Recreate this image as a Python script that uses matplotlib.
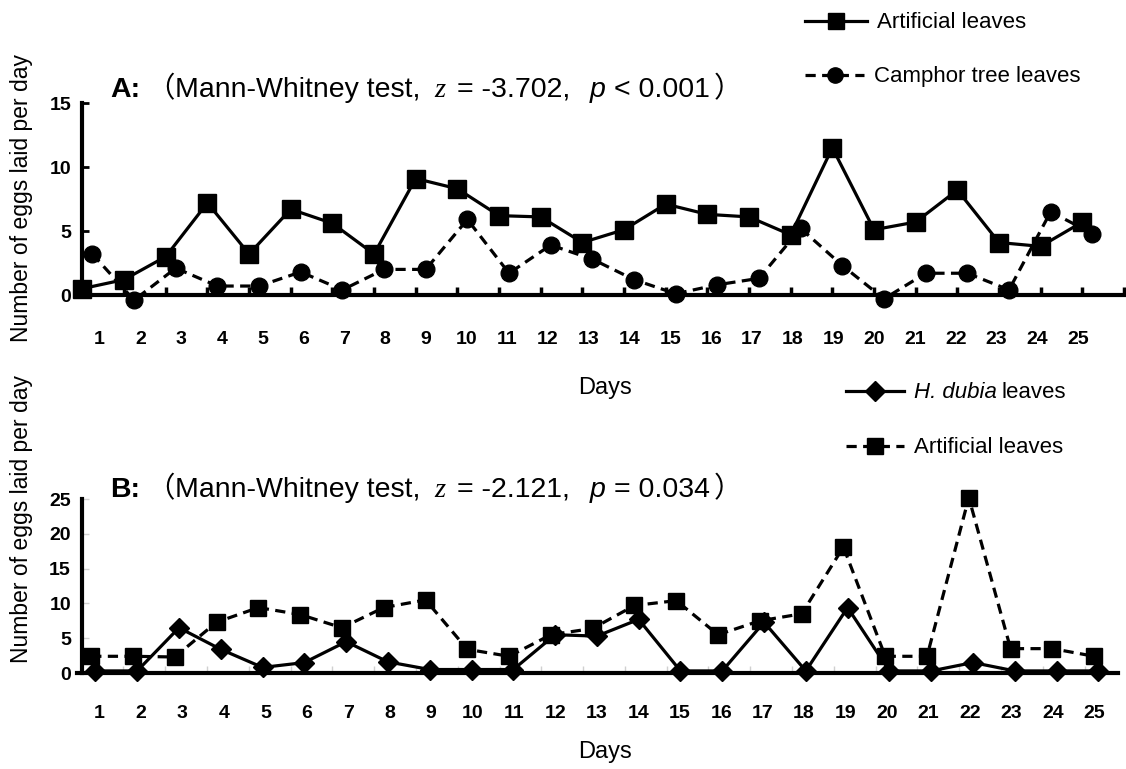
import matplotlib
matplotlib.use('Agg')
import matplotlib.pyplot as plt
from matplotlib.lines import Line2D
import numpy as np

# data
days = np.arange(1, 26)
a_artificial = [0.5, 1.2, 3.0, 7.2, 3.2, 6.7, 5.6, 3.2, 9.1, 8.3, 6.2, 6.1, 4.1,
                5.1, 7.1, 6.3, 6.1, 4.7, 11.5, 5.1, 5.7, 8.2, 4.1, 3.8, 5.7]
a_camphor = [3.2, -0.4, 2.1, 0.7, 0.7, 1.8, 0.4, 2.0, 2.0, 5.9, 1.7, 3.9, 2.8,
             1.2, 0.1, 0.8, 1.3, 5.2, 2.3, -0.3, 1.7, 1.7, 0.4, 6.5, 4.8]
b_dubia = [0.3, 0.3, 6.5, 3.4, 0.8, 1.5, 4.5, 1.6, 0.5, 0.5, 0.5, 5.5, 5.3,
           7.7, 0.3, 0.3, 7.3, 0.3, 9.4, 0.3, 0.3, 1.5, 0.3, 0.3, 0.3]
b_artificial = [2.4, 2.4, 2.3, 7.3, 9.4, 8.4, 6.5, 9.4, 10.5, 3.4, 2.4, 5.5, 6.4,
                9.7, 10.4, 5.5, 7.5, 8.5, 18.1, 2.4, 2.4, 25.2, 3.5, 3.5, 2.4]
a_yticks = [0, 5, 10, 15]
b_yticks = [0, 5, 10, 15, 20, 25]
day_labels = [str(d) for d in days]

W, H = 1126, 769
fig = plt.figure(figsize=(W / 100, H / 100), dpi=100)
sans = ['Liberation Sans', 'DejaVu Sans']
cjk = ['Noto Sans CJK JP', 'DejaVu Sans']
LW = 2.3
DASH = (0, (3.2, 2.0))


def pos(x0, x1, y_top, y_bot):
    return [x0 / W, 1 - y_bot / H, (x1 - x0) / W, (y_bot - y_top) / H]


def put(x, y, s, size, **kw):
    return fig.text(x / W, 1 - y / H, s, va='baseline', ha='left', fontsize=size, **kw)


def style_axes(ax, spine_x, ycolor):
    for s in ['top', 'right']:
        ax.spines[s].set_visible(False)
    ax.spines['left'].set_position(('data', spine_x))
    ax.spines['left'].set_linewidth(3)
    ax.spines['bottom'].set_linewidth(3)
    ax.tick_params(axis='y', direction='in', length=5, width=2 if ycolor == 'k' else 1,
                   color=ycolor, pad=8, labelsize=14)
    for lab in ax.get_yticklabels():
        lab.set_fontfamily(sans)
        lab.set_fontweight('bold')


# ---- panel A
ax1 = fig.add_axes(pos(77, 1124, 103, 295))
ax1.plot(days, a_artificial, color='k', lw=LW, marker='s', ms=12.5, clip_on=False, zorder=3)
ax1.plot(days + 0.24, a_camphor, color='k', lw=LW, ls=DASH, marker='o', ms=12, clip_on=False, zorder=3)
ax1.set_xlim(0.87, 26.0)
ax1.set_ylim(0, 15)
ax1.set_yticks(a_yticks)
ax1.set_xticks(np.linspace(1.41, 24.9, 25))
ax1.set_xticklabels(day_labels, fontfamily=sans, fontweight='bold', fontsize=14)
ax1.set_xticks(np.arange(1, 27), minor=True)
ax1.tick_params(axis='x', which='major', length=0, pad=26)
ax1.tick_params(axis='x', which='minor', direction='in', length=6, width=2.5)
style_axes(ax1, 1.0, 'k')

# ---- panel B
ax2 = fig.add_axes(pos(77, 1118, 499, 673))
ax2.plot(days + 0.1, b_dubia, color='k', lw=LW, marker='D', ms=10, clip_on=False, zorder=3)
ax2.plot(days, b_artificial, color='k', lw=LW, ls=DASH, marker='s', ms=12, clip_on=False, zorder=3)
ax2.set_xlim(0.66, 25.57)
ax2.set_ylim(0, 25)
ax2.set_yticks(b_yticks)
ax2.set_xticks(np.linspace(1.2, 25.0, 25))
ax2.set_xticklabels(day_labels, fontfamily=sans, fontweight='bold', fontsize=14)
ax2.set_xticks(np.arange(1, 25) + 0.77, minor=True)
ax2.tick_params(axis='x', which='major', length=0, pad=23)
ax2.tick_params(axis='x', which='minor', direction='in', length=5, width=1, color='#d0d0d0')
style_axes(ax2, 0.78, '#d0d0d0')

# ---- axis titles
for yc in [198, 519]:
    fig.text(22 / W, 1 - yc / H, 'Number of eggs laid per day', rotation=90,
             ha='center', va='center', fontsize=16.5, family=sans)
fig.text(605 / W, 1 - 388 / H, 'Days', ha='center', va='center', fontsize=17, family=sans)
fig.text(605 / W, 1 - 752 / H, 'Days', ha='center', va='center', fontsize=17, family=sans)

# ---- panel titles
TS = 20.5
for lbl, y, zval, pstr in [('A:', 97, '= -3.702,', '< 0.001'),
                           ('B:', 497, '= -2.121,', '= 0.034')]:
    put(110, y, lbl, TS, family=sans, fontweight='bold')
    put(146, y, '\uff08', TS, family=cjk)
    put(175, y, 'Mann-Whitney test,', TS, family=sans)
    put(434, y, 'z', TS, family=['Liberation Serif'], style='italic')
    put(457, y, zval, TS, family=sans)
    put(590, y, 'p', TS, family=sans, style='italic')
    put(614, y, pstr, TS, family=sans)
    put(714, y, '\uff09', TS, family=cjk)


# ---- legends
def legend_entry(x0, x1, y, ls, marker, ms, label, italic_part=None):
    xs = np.array([x0, (x0 + x1) / 2, x1]) / W
    ys = np.full(3, 1 - y / H)
    fig.add_artist(Line2D(xs, ys, color='k', lw=LW, ls=ls, marker=marker, ms=ms,
                          markevery=[1], transform=fig.transFigure))
    tx = x1 + 10
    if italic_part:
        t = put(tx, y + 7, italic_part, 16, family=sans, style='italic')
        tx += t.get_window_extent(renderer=fig.canvas.get_renderer()).width + 5
    put(tx, y + 7, label, 16, family=sans)


legend_entry(805, 867, 21, '-', 's', 12, 'Artificial leaves')
legend_entry(805, 864, 75, DASH, 'o', 11, 'Camphor tree leaves')
legend_entry(846, 904, 391, '-', 'D', 10, 'leaves', italic_part='H. dubia')
legend_entry(846, 904, 446, DASH, 's', 12, 'Artificial leaves')

fig.savefig('out.png', dpi=100)
